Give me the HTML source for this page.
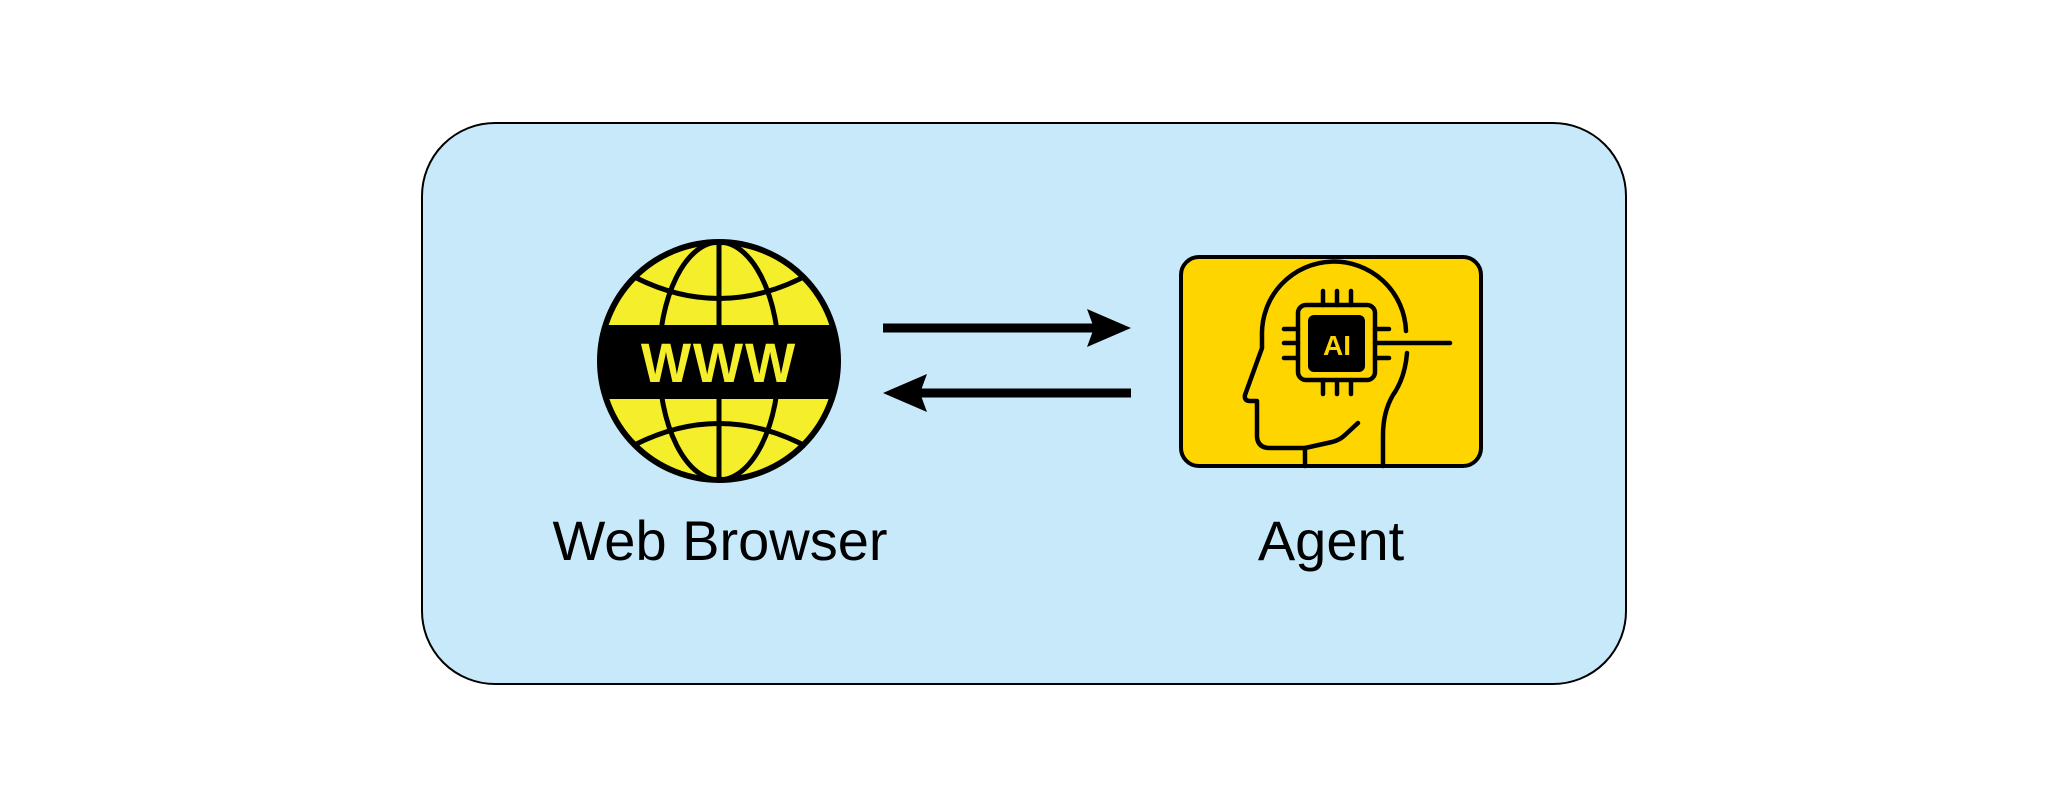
<!DOCTYPE html>
<html><head><meta charset="utf-8"><style>
html,body{margin:0;padding:0;background:#fff;}
svg{display:block;}
</style></head><body>
<svg width="2048" height="809" viewBox="0 0 2048 809" xmlns="http://www.w3.org/2000/svg">
<defs><clipPath id="gc"><circle cx="719" cy="361" r="119"/></clipPath></defs>
<rect x="422" y="123" width="1204" height="561" rx="73" ry="73" fill="#C8E9FA" stroke="#000" stroke-width="2"/>
<!-- globe -->
<circle cx="719" cy="361" r="119" fill="#F5EE2A"/>
<g stroke="#000" stroke-width="5" fill="none" clip-path="url(#gc)">
<ellipse cx="719" cy="361" rx="60" ry="119"/>
<line x1="719" y1="242" x2="719" y2="480"/>
<path d="M625,272 Q719,325 813,272"/>
<path d="M625,450 Q719,397 813,450"/>
<rect x="590" y="325" width="260" height="74" fill="#000" stroke="none"/>
</g>
<circle cx="719" cy="361" r="119" fill="none" stroke="#000" stroke-width="6"/>
<text x="719" y="382" text-anchor="middle" font-family="Liberation Sans, sans-serif" font-weight="bold" font-size="56" fill="#F5EE2A" letter-spacing="2" transform="translate(719,0) scale(0.95,1) translate(-719,0)">WWW</text>
<!-- arrows -->
<line x1="883" y1="328" x2="1100" y2="328" stroke="#000" stroke-width="9"/>
<polygon points="1131,328 1087,309 1094,328 1087,347" fill="#000"/>
<line x1="1131" y1="393" x2="914" y2="393" stroke="#000" stroke-width="9"/>
<polygon points="883,393 927,374 920,393 927,412" fill="#000"/>
<!-- agent box -->
<rect x="1181" y="257" width="300" height="209" rx="18" ry="18" fill="#FFD500" stroke="#000" stroke-width="4"/>
<g stroke="#000" stroke-width="4.5" fill="none" stroke-linecap="round" stroke-linejoin="round">
<path d="M1406,331 A68,68 0 0 0 1262,336 L1262,348 L1245,395 Q1244,401 1250,401 L1257,401 L1257,437 Q1258,448 1270,448 L1305,448 L1332,442 Q1340,440 1345,435 L1358,423"/>
<line x1="1305" y1="448" x2="1305" y2="466"/>
<path d="M1407,353 Q1405,378 1393,395 Q1383,412 1383,435 L1383,466"/>
<rect x="1298" y="305" width="77" height="75" rx="8"/>
<line x1="1323" y1="291" x2="1323" y2="305"/><line x1="1337" y1="291" x2="1337" y2="305"/><line x1="1351" y1="291" x2="1351" y2="305"/>
<line x1="1323" y1="380" x2="1323" y2="394"/><line x1="1337" y1="380" x2="1337" y2="394"/><line x1="1351" y1="380" x2="1351" y2="394"/>
<line x1="1284" y1="329" x2="1298" y2="329"/><line x1="1284" y1="343" x2="1298" y2="343"/><line x1="1284" y1="358" x2="1298" y2="358"/>
<line x1="1375" y1="329" x2="1389" y2="329"/><line x1="1375" y1="343" x2="1450" y2="343"/><line x1="1375" y1="358" x2="1389" y2="358"/>
</g>
<rect x="1308" y="315" width="57" height="57" rx="6" fill="#000"/>
<text x="1337" y="355" text-anchor="middle" font-family="Liberation Sans, sans-serif" font-weight="bold" font-size="28" fill="#FFD500">AI</text>
<!-- labels -->
<text x="720" y="560" text-anchor="middle" font-family="Liberation Sans, sans-serif" font-size="56" fill="#000">Web Browser</text>
<text x="1331" y="560" text-anchor="middle" font-family="Liberation Sans, sans-serif" font-size="56" fill="#000">Agent</text>
</svg>
</body></html>
